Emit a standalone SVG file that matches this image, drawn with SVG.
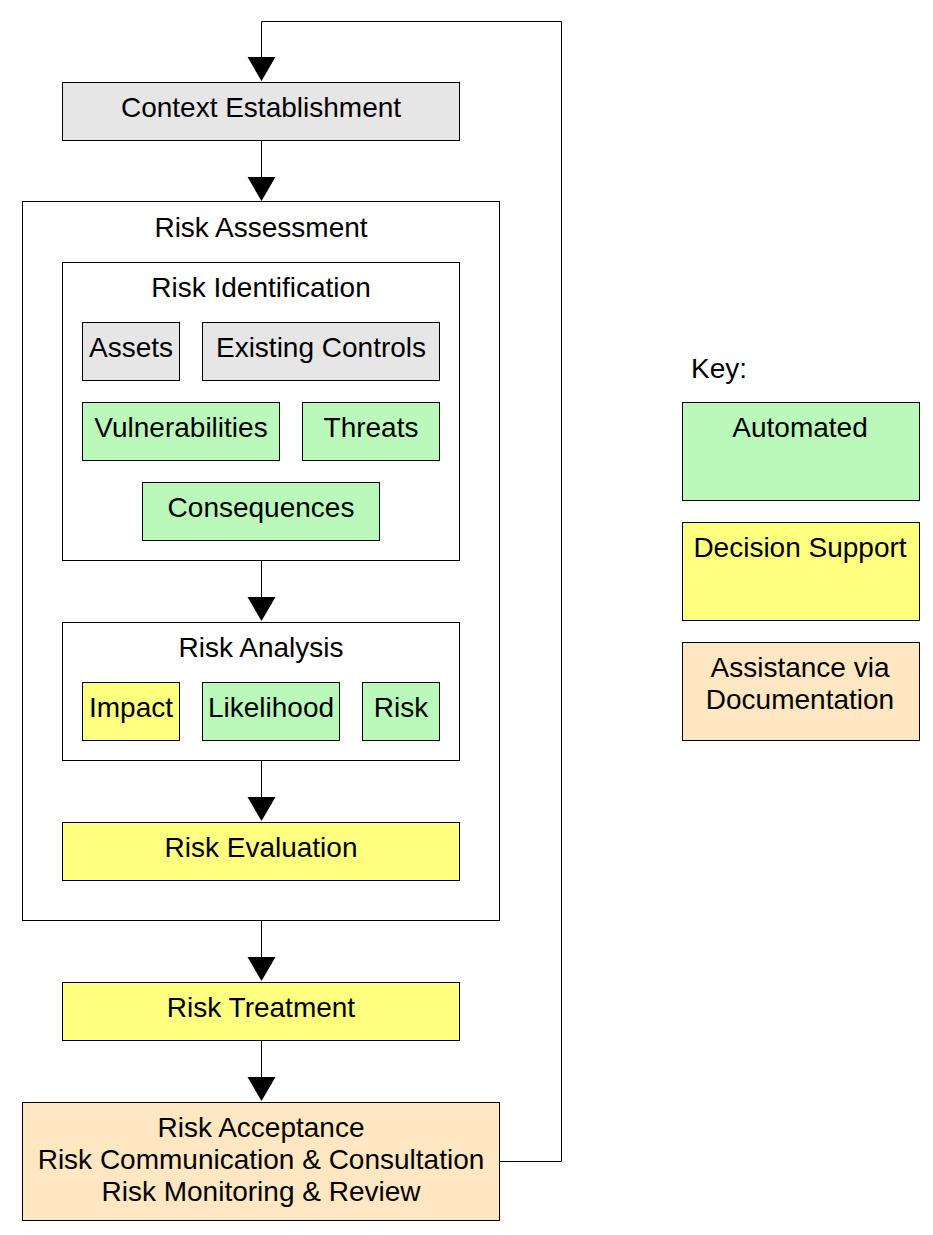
<svg xmlns="http://www.w3.org/2000/svg" width="933" height="1235" viewBox="0 0 933 1235">
<style>
.b{stroke:#000;stroke-width:1}
.g{fill:#e6e6e6}.a{fill:#bbf9bb}.y{fill:#ffff80}.p{fill:#ffe7c2}.w{fill:#fff}
text{font-family:"Liberation Sans",Arial,sans-serif;font-size:28px;fill:#000;text-anchor:middle}
.c path,.c polyline{fill:none;stroke:#000;stroke-width:1}
.c polygon{fill:#000}
</style>
<rect width="933" height="1235" fill="#fff"/>
<g id="context"><rect class="b g" x="62.5" y="82.5" width="397" height="58"/><text x="261" y="117">Context Establishment</text></g>
<g id="risk-assessment"><rect class="b w" x="22.5" y="201.5" width="477" height="719"/><text x="261" y="237">Risk Assessment</text></g>
<g id="risk-identification"><rect class="b w" x="62.5" y="262.5" width="397" height="298"/><text x="261" y="297">Risk Identification</text></g>
<g id="assets"><rect class="b g" x="82.5" y="322.5" width="97" height="58"/><text x="131" y="357">Assets</text></g>
<g id="existing-controls"><rect class="b g" x="202.5" y="322.5" width="237" height="58"/><text x="321" y="357">Existing Controls</text></g>
<g id="vulnerabilities"><rect class="b a" x="82.5" y="402.5" width="197" height="58"/><text x="181" y="437">Vulnerabilities</text></g>
<g id="threats"><rect class="b a" x="302.5" y="402.5" width="137" height="58"/><text x="371" y="437">Threats</text></g>
<g id="consequences"><rect class="b a" x="142.5" y="482.5" width="237" height="58"/><text x="261" y="517">Consequences</text></g>
<g id="risk-analysis"><rect class="b w" x="62.5" y="622.5" width="397" height="138"/><text x="261" y="657">Risk Analysis</text></g>
<g id="impact"><rect class="b y" x="82.5" y="682.5" width="97" height="58"/><text x="131" y="717">Impact</text></g>
<g id="likelihood"><rect class="b a" x="202.5" y="682.5" width="137" height="58"/><text x="271" y="717">Likelihood</text></g>
<g id="risk"><rect class="b a" x="362.5" y="682.5" width="77" height="58"/><text x="401" y="717">Risk</text></g>
<g id="risk-evaluation"><rect class="b y" x="62.5" y="822.5" width="397" height="58"/><text x="261" y="857">Risk Evaluation</text></g>
<g id="risk-treatment"><rect class="b y" x="62.5" y="982.5" width="397" height="58"/><text x="261" y="1017">Risk Treatment</text></g>
<g id="risk-acceptance"><rect class="b p" x="22.5" y="1102.5" width="477" height="118"/><text x="261" y="1137">Risk Acceptance</text><text x="261" y="1169">Risk Communication &amp; Consultation</text><text x="261" y="1201">Risk Monitoring &amp; Review</text></g>
<g id="key"><text x="719" y="378">Key:</text></g>
<g id="key-automated"><rect class="b a" x="682.5" y="402.5" width="237" height="98"/><text x="800" y="437">Automated</text></g>
<g id="key-decision"><rect class="b y" x="682.5" y="522.5" width="237" height="98"/><text x="800" y="557">Decision Support</text></g>
<g id="key-documentation"><rect class="b p" x="682.5" y="642.5" width="237" height="98"/><text x="800" y="677">Assistance via</text><text x="800" y="709">Documentation</text></g>
<g id="connectors" class="c">
<path d="M261.5,141 V178"/><polygon points="247.5,177 275.5,177 261.5,201"/>
<path d="M261.5,561 V598"/><polygon points="247.5,597 275.5,597 261.5,621"/>
<path d="M261.5,761 V798"/><polygon points="247.5,797 275.5,797 261.5,821"/>
<path d="M261.5,921 V958"/><polygon points="247.5,957 275.5,957 261.5,981"/>
<path d="M261.5,1041 V1078"/><polygon points="247.5,1077 275.5,1077 261.5,1101"/>
<polyline points="500,1161.5 561.5,1161.5 561.5,21.5 261.5,21.5 261.5,58"/><polygon points="247.5,57 275.5,57 261.5,81"/>
</g>
</svg>
